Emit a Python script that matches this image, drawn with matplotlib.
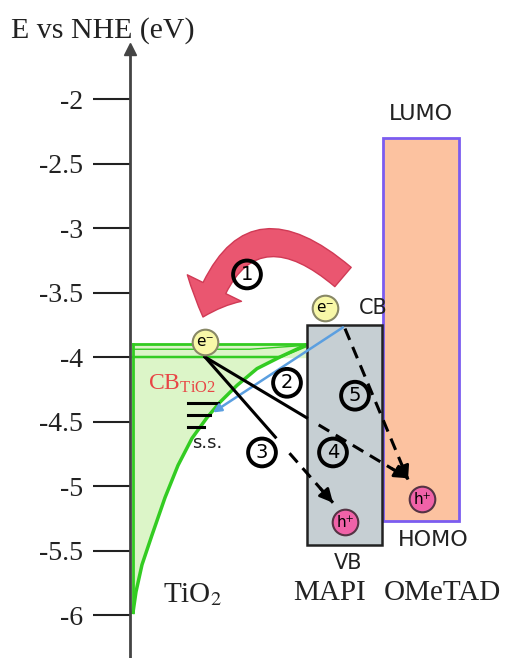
import matplotlib
matplotlib.use("Agg")
import matplotlib.pyplot as plt
from matplotlib.patches import Rectangle, FancyArrowPatch

plt.rcParams['mathtext.fontset'] = 'stix'

# energy levels (eV vs NHE)
ticks = [-2, -2.5, -3, -3.5, -4, -4.5, -5, -5.5, -6]
tio2_cb = -3.9
tio2_cb_low = -4.0
# band bending curve of TiO2 (x position along diagram, energy)
bend_x = [305, 280, 257, 237, 220, 207, 192, 178, 165, 152, 142, 136, 133]
bend_E = [-3.91, -4.00, -4.09, -4.22, -4.35, -4.47, -4.63, -4.84, -5.09, -5.38, -5.61, -5.82, -5.98]
surface_states = [-4.36, -4.45, -4.54]
mapi_cb, mapi_vb = -3.75, -5.46
ometad_lumo, ometad_homo = -2.3, -5.27
# carriers
e_tio2, e_mapi = -3.88, -3.62
h_mapi, h_ometad = -5.28, -5.10
# process labels 1..5 (energy of the circled numbers)
proc_labels = ['1', '2', '3', '4', '5']
proc_E = [-3.36, -4.20, -4.74, -4.74, -4.30]
proc_x = [247, 287, 262, 333, 355]

top_E = -2 + 99 / 129
bot_E = -2 - 559 / 129

fig = plt.figure(figsize=(5.06, 6.58), dpi=100)
ax = fig.add_axes([0, 0, 1, 1])
ax.set_xlim(0, 506)
ax.set_ylim(bot_E, top_E)
for s in ['top', 'right', 'bottom']:
    ax.spines[s].set_visible(False)
ax.spines['left'].set_position(('data', 130))
ax.spines['left'].set_linewidth(2)
ax.spines['left'].set_color('#444444')
ax.spines['left'].set_bounds(bot_E, -2 + 45 / 129)
ax.set_xticks([])
ax.set_yticks(ticks)
ax.set_yticklabels([f'{t:g}' for t in ticks], family='Liberation Serif', fontsize=20, color='#222222')
ax.tick_params(axis='y', direction='out', length=27, width=1.5, color='#222222', pad=7)
ax.plot([130], [-2 + 50 / 129], marker='^', ms=8, color='#444444', clip_on=False)
ax.text(11, -2 + 68 / 129, 'E vs NHE (eV)', family='Liberation Serif', fontsize=21.5,
        va='center', ha='left', color='#222222')

# TiO2 region
poly_x = [133] + bend_x + [133]
poly_E = [tio2_cb] + bend_E + [bend_E[-1]]
ax.fill(poly_x, poly_E, color='#dcf5c8', zorder=1)
ax.fill([133, 305, 305, 133], [tio2_cb, tio2_cb, tio2_cb_low, tio2_cb_low], color='#dcf5c8', zorder=1)
ax.plot(bend_x, bend_E, color='#33cc22', lw=2.5, zorder=2)
ax.plot([133, 305], [tio2_cb, tio2_cb], color='#33cc22', lw=2, zorder=2)
ax.plot([133, 250, 305], [-3.94, -3.94, -3.91], color='#33cc22', lw=1, zorder=2)
ax.plot([133, 280, 305], [tio2_cb_low, tio2_cb_low, -3.92], color='#33cc22', lw=1.8, zorder=2)
ax.plot([133, 133], [tio2_cb, bend_E[-1]], color='#33cc22', lw=2, zorder=2)
ax.text(148, -4.25, r'CB$_{\mathregular{TiO2}}$', family='Liberation Serif', fontsize=17,
        color='#e84545', va='baseline', ha='left', zorder=3)
for ss, w in zip(surface_states, [30, 22, 16]):
    ax.plot([188, 188 + w], [ss, ss], color='black', lw=2.2, zorder=3)
ax.text(207, -4.67, 's.s.', fontsize=13, ha='center', va='center', color='#222222', zorder=3)

# MAPI
ax.add_patch(Rectangle((307, mapi_vb), 75, mapi_cb - mapi_vb, fc='#c6cfd3', ec='#222222', lw=1.8, zorder=2))
# OMeTAD
ax.add_patch(Rectangle((383, ometad_homo), 76, ometad_lumo - ometad_homo, fc='#fcc2a0', ec='#7b5cf0', lw=2, zorder=1.5))

ax.text(421, -2.12, 'LUMO', fontsize=16, ha='center', va='center', color='#222222')
ax.text(433, -5.42, 'HOMO', fontsize=16, ha='center', va='center', color='#222222')
ax.text(348, -5.60, 'VB', fontsize=15, ha='center', va='center', color='#222222')
ax.text(359, -3.62, 'CB', fontsize=15, ha='left', va='center', color='#222222', zorder=6)
ax.text(193, -5.84, r'TiO$_2$', family='Liberation Serif', fontsize=21, ha='center', va='center', color='#222222')
ax.text(330, -5.83, 'MAPI', family='Liberation Serif', fontsize=21, ha='center', va='center', color='#222222')
ax.text(442, -5.83, 'OMeTAD', family='Liberation Serif', fontsize=21, ha='center', va='center', color='#222222')

# process 1: photo-injection (red curved arrow)
red = FancyArrowPatch((343, -3.38), (203, -3.69), connectionstyle='arc3,rad=0.75',
                      arrowstyle='simple,head_width=3.1,head_length=1.6,tail_width=1.3',
                      mutation_scale=14, fc='#ea5670', ec='#d03a55', lw=1, shrinkA=0, shrinkB=0, zorder=4)
ax.add_patch(red)

# process 2: blue arrow into surface states
ax.annotate('', xy=(213, -4.43), xytext=(343, -3.77),
            arrowprops=dict(arrowstyle='-|>', color='#5b9fe0', lw=1.8, mutation_scale=12,
                            shrinkA=0, shrinkB=0), zorder=5)

dash = dict(color='black', lw=2.2, linestyle=(0, (4, 2.5)), zorder=5)
# process 3: TiO2 e- -> MAPI VB hole
x0, y0, x1, y1 = 205, -4.0, 333, -5.13
ax.plot([x0, x0 + 0.55 * (x1 - x0)], [y0, y0 + 0.55 * (y1 - y0)], color='black', lw=2.2, zorder=5)
ax.plot([x0 + 0.66 * (x1 - x0), x1], [y0 + 0.66 * (y1 - y0), y1], **dash)
ax.annotate('', xy=(x1, y1), xytext=(x0 + 0.9 * (x1 - x0), y0 + 0.9 * (y1 - y0)),
            arrowprops=dict(arrowstyle='-|>', color='black', lw=2, mutation_scale=20, shrinkA=0, shrinkB=0), zorder=5)
# process 4: TiO2 e- -> OMeTAD hole
x0, y0, x1, y1 = 205, -4.0, 408, -4.94
ax.plot([x0, x0 + 0.5 * (x1 - x0)], [y0, y0 + 0.5 * (y1 - y0)], color='black', lw=2.2, zorder=5)
ax.plot([x0 + 0.56 * (x1 - x0), x1], [y0 + 0.56 * (y1 - y0), y1], **dash)
ax.annotate('', xy=(x1, y1), xytext=(x0 + 0.92 * (x1 - x0), y0 + 0.92 * (y1 - y0)),
            arrowprops=dict(arrowstyle='-|>', color='black', lw=2, mutation_scale=20, shrinkA=0, shrinkB=0), zorder=5)
# process 5: MAPI e- -> OMeTAD hole
x0, y0, x1, y1 = 345, -3.78, 408, -4.95
ax.plot([x0, x1], [y0, y1], **dash)
ax.annotate('', xy=(x1, y1), xytext=(x0 + 0.9 * (x1 - x0), y0 + 0.9 * (y1 - y0)),
            arrowprops=dict(arrowstyle='-|>', color='black', lw=2, mutation_scale=20, shrinkA=0, shrinkB=0), zorder=5)

# carriers
ax.scatter([205, 325], [e_tio2, e_mapi], s=340, c='#f8f8a8', edgecolors='#888866', lw=1.5, zorder=6)
ax.text(205, e_tio2, r'e$^{-}$', fontsize=11, ha='center', va='center', zorder=7)
ax.text(325, e_mapi, r'e$^{-}$', fontsize=11, ha='center', va='center', zorder=7)
ax.scatter([345, 422], [h_mapi, h_ometad], s=340, c='#f062a8', edgecolors='#553344', lw=1.5, zorder=6)
ax.text(345, h_mapi, r'h$^{+}$', fontsize=11, ha='center', va='center', zorder=7)
ax.text(422, h_ometad, r'h$^{+}$', fontsize=11, ha='center', va='center', zorder=7)

# circled process numbers (open circles)
ax.scatter(proc_x, proc_E, s=400, facecolors='none', edgecolors='black', lw=2.8, zorder=8)
for lab, px, pe in zip(proc_labels, proc_x, proc_E):
    ax.text(px, pe, lab, fontsize=14, ha='center', va='center', zorder=9)

fig.savefig('out.png', dpi=100)
